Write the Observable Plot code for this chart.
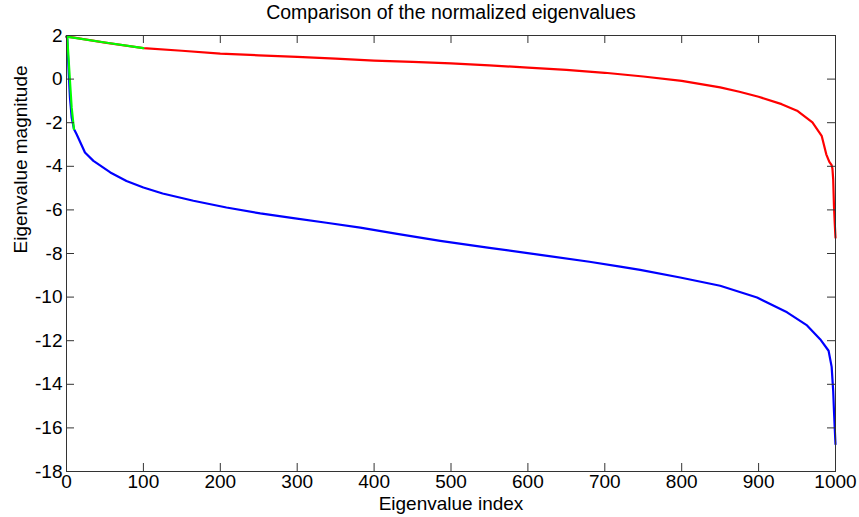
<!DOCTYPE html>
<html>
<head>
<meta charset="utf-8">
<script src="https://cdn.jsdelivr.net/npm/d3@7"></script>
<script src="https://cdn.jsdelivr.net/npm/@observablehq/plot@0.6"></script>
<style>
  html, body { margin: 0; padding: 0; background: #fff; }
</style>
</head>
<body>
<div id="chart"></div>
<script>
const titleText = "Comparison of the normalized eigenvalues";
const xLabel = "Eigenvalue index";
const yLabel = "Eigenvalue magnitude";
const xTicks = [0, 100, 200, 300, 400, 500, 600, 700, 800, 900, 1000];
const yTicks = [2, 0, -2, -4, -6, -8, -10, -12, -14, -16, -18];

// Red series (normalized eigenvalues, set A)
const redIndex = [0, 10, 50, 100, 150, 200, 250, 300, 350, 400, 450, 500, 550, 600, 650, 700, 750, 800, 825, 850, 875, 900, 930, 950, 970, 982, 988, 992, 995, 996, 997, 998, 999, 1000];
const redValue = [1.95, 1.9, 1.67, 1.42, 1.3, 1.17, 1.09, 1.02, 0.94, 0.85, 0.79, 0.72, 0.63, 0.53, 0.42, 0.29, 0.12, -0.08, -0.23, -0.38, -0.58, -0.81, -1.15, -1.45, -1.99, -2.6, -3.45, -3.8, -3.95, -4.1, -4.6, -5.8, -6.6, -7.27];

// Blue series (normalized eigenvalues, set B)
const blueIndex = [0, 1, 2, 3, 4.5, 6.7, 9.7, 13, 20, 24, 35, 57, 78, 100, 125, 165, 208, 252, 295, 338, 382, 430, 486, 550, 616, 680, 720, 746, 798, 850, 898, 937, 963, 980, 991, 995, 997, 998, 999, 1000];
const blueValue = [1.95, 1.85, 1.0, 0.2, -0.84, -1.76, -2.29, -2.52, -3.06, -3.37, -3.75, -4.28, -4.67, -4.97, -5.25, -5.58, -5.89, -6.16, -6.38, -6.59, -6.81, -7.1, -7.42, -7.74, -8.06, -8.38, -8.6, -8.75, -9.1, -9.48, -10.02, -10.7, -11.3, -11.93, -12.46, -13.2, -14.3, -15.2, -16.0, -16.75];

// Green overlays (leading segments)
const greenTopIndex = [0, 50, 100];
const greenTopValue = [1.95, 1.68, 1.42];
const greenBottomIndex = [1, 4.5, 6.7, 9.7];
const greenBottomValue = [1.9, -0.08, -1.3, -2.29];

const zip = (xs, ys) => xs.map((x, i) => ({x, y: ys[i]}));
const red = zip(redIndex, redValue);
const blue = zip(blueIndex, blueValue);
const greenTop = zip(greenTopIndex, greenTopValue);
const greenBottom = zip(greenBottomIndex, greenBottomValue);

const W = 859, H = 517;
const mL = 66, mR = 24, mT = 35, mB = 46;
const innerW = W - mL - mR, innerH = H - mT - mB;
const tickLen = 8;
const axisColor = "#333";
const fmt = d => String(d);

const chart = Plot.plot({
  width: W,
  height: H,
  marginLeft: mL,
  marginRight: mR,
  marginTop: mT,
  marginBottom: mB,
  style: {fontFamily: "'Liberation Sans', Arial, Helvetica, sans-serif", fontSize: "19px", color: "#000", background: "#fff"},
  x: {domain: [0, 1000]},
  y: {domain: [-18, 2]},
  marks: [
    Plot.line(blue, {x: "x", y: "y", stroke: "#0000ff", strokeWidth: 2.2}),
    Plot.line(red, {x: "x", y: "y", stroke: "#ff0000", strokeWidth: 2.2}),
    Plot.line(greenTop, {x: "x", y: "y", stroke: "#00ff00", strokeWidth: 2.2}),
    Plot.line(greenBottom, {x: "x", y: "y", stroke: "#00ff00", strokeWidth: 2.2}),
    Plot.frame({stroke: axisColor, strokeWidth: 1}),
    Plot.ruleX(xTicks, {x: d => d, insetTop: innerH - tickLen, stroke: axisColor}),
    Plot.ruleX(xTicks, {x: d => d, insetBottom: innerH - tickLen, stroke: axisColor}),
    Plot.ruleY(yTicks, {y: d => d, insetRight: innerW - tickLen, stroke: axisColor}),
    Plot.ruleY(yTicks, {y: d => d, insetLeft: innerW - tickLen, stroke: axisColor}),
    Plot.axisX(xTicks, {tickSize: 0, tickPadding: 3, fill: "#000", fontSize: 19, label: null, tickFormat: fmt}),
    Plot.axisY(yTicks, {tickSize: 0, tickPadding: 4, fill: "#000", fontSize: 19, label: null, tickFormat: fmt}),
    Plot.text([titleText], {frameAnchor: "top", dy: -23, fontSize: 19.5, fill: "#000", lineAnchor: "middle"}),
    Plot.text([xLabel], {frameAnchor: "bottom", dy: 32, fontSize: 19, fill: "#000", lineAnchor: "middle"}),
    Plot.text([yLabel], {frameAnchor: "left", dx: -46, rotate: -90, fontSize: 19, fill: "#000", lineAnchor: "middle"})
  ]
});
document.getElementById("chart").appendChild(chart);
</script>
</body>
</html>
